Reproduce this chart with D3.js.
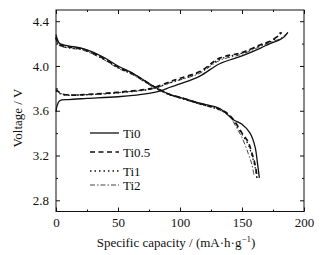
<!DOCTYPE html>
<html><head><meta charset="utf-8">
<script src="https://cdn.jsdelivr.net/npm/d3@7"></script>
<style>body{margin:0;background:#fff}svg{display:block}text{font-family:"Liberation Serif","Times New Roman",serif;fill:#111}</style>
</head><body><svg id="c" width="329" height="255"></svg>
<script>
const seriesNames = ["Ti0","Ti0.5","Ti1","Ti2"];
const xTicks = [0,50,100,150,200];
const yTicks = [2.8,3.2,3.6,4.0,4.4];
// charge curves
const ti0ChargeCap = [0,1,3,10,25,50,75,85,92,100,116,132,150,165,172.6,180.6,184,187];
const ti0ChargeV   = [3.59,3.65,3.69,3.70,3.71,3.725,3.755,3.78,3.81,3.84,3.91,4.02,4.09,4.16,4.20,4.235,4.26,4.30];
const ti05ChargeCap = [0,2,5,11,25,50,75,80,92,100,116,132,150,165,172.6,178,182];
const ti05ChargeV   = [3.79,3.77,3.75,3.74,3.745,3.765,3.795,3.81,3.86,3.89,3.95,4.07,4.12,4.19,4.22,4.26,4.30];
const ti1ChargeCap = [0,2,5,11,25,50,75,80,92,100,116,132,150,165,172.6,178,181];
const ti1ChargeV   = [3.78,3.76,3.745,3.738,3.742,3.76,3.79,3.805,3.85,3.88,3.945,4.06,4.115,4.185,4.215,4.255,4.30];
const ti2ChargeCap = [0,2,5,11,25,50,75,80,92,100,116,132,150,165,172.6,180,184,187];
const ti2ChargeV   = [3.80,3.77,3.75,3.742,3.745,3.762,3.79,3.80,3.85,3.875,3.935,4.05,4.105,4.175,4.21,4.24,4.27,4.30];
// discharge curves
const ti0DischCap = [0,1,3,10,22,38,50,62,80,92,100,116,132,143,150,156.5,160.5,162.5,164];
const ti0DischV   = [4.28,4.24,4.20,4.18,4.155,4.08,4.0,3.935,3.81,3.745,3.72,3.667,3.62,3.52,3.48,3.40,3.28,3.13,3.0];
const ti05DischCap = [0,1,3,10,22,38,50,62,80,92,100,116,132,140,145,150,155,158,160.5,162.3];
const ti05DischV   = [4.26,4.22,4.19,4.17,4.15,4.07,3.99,3.93,3.81,3.745,3.72,3.665,3.615,3.56,3.49,3.40,3.32,3.22,3.12,3.0];
const ti1DischCap = [0,1,3,10,22,38,50,62,80,92,100,116,132,140,145,150,155,158,160.5,162];
const ti1DischV   = [4.25,4.21,4.185,4.165,4.145,4.065,3.985,3.925,3.805,3.74,3.715,3.66,3.61,3.555,3.48,3.39,3.30,3.20,3.10,3.0];
const ti2DischCap = [0,1,3,10,22,38,50,62,80,92,100,116,132,140,145,150,155,158,159.7];
const ti2DischV   = [4.24,4.20,4.18,4.16,4.14,4.06,3.98,3.92,3.80,3.74,3.712,3.658,3.605,3.55,3.46,3.36,3.22,3.12,3.02];

const dashes = ["none","5,3.5","1.5,3","5,2,1.5,2"];
const widths = [1.3,1.7,1.3,1];
const colors = ["#111","#111","#111","#444"];

const svg = d3.select("#c");
const L=56,R=304,T=10,B=211.5;
const x = d3.scaleLinear().domain([0,200]).range([L,R]);
const y = d3.scaleLinear().domain([2.7,4.5]).range([B,T]);

// frame
svg.append("rect").attr("x",L).attr("y",T).attr("width",R-L).attr("height",B-T)
  .attr("fill","none").attr("stroke","#111").attr("stroke-width",1);

const ax = g=>g.call(s=>s.select(".domain").remove()).selectAll("line").attr("stroke","#111");
const xMinor = d3.range(25,200,50);
const yMinor = d3.range(3.0,4.5,0.4).map(v=>+v.toFixed(1));
svg.append("g").attr("transform",`translate(0,${B})`).call(d3.axisBottom(x).tickValues(xTicks).tickSize(-4).tickPadding(6).tickFormat(d3.format("d"))).call(ax)
  .selectAll("text").attr("font-size",13).attr("fill","#111");
svg.append("g").attr("transform",`translate(0,${B})`).call(d3.axisBottom(x).tickValues(xMinor).tickSize(-2).tickFormat("")).call(ax);
svg.append("g").attr("transform",`translate(0,${T})`).call(d3.axisTop(x).tickValues(xTicks).tickSize(-4).tickFormat("")).call(ax);
svg.append("g").attr("transform",`translate(0,${T})`).call(d3.axisTop(x).tickValues(xMinor).tickSize(-2).tickFormat("")).call(ax);
svg.append("g").attr("transform",`translate(${L},0)`).call(d3.axisLeft(y).tickValues(yTicks).tickSize(-4).tickPadding(7).tickFormat(d3.format(".1f"))).call(ax)
  .selectAll("text").attr("font-size",13).attr("fill","#111");
svg.append("g").attr("transform",`translate(${L},0)`).call(d3.axisLeft(y).tickValues(yMinor).tickSize(-2).tickFormat("")).call(ax);
svg.append("g").attr("transform",`translate(${R},0)`).call(d3.axisRight(y).tickValues(yTicks).tickSize(-4).tickFormat("")).call(ax);
svg.append("g").attr("transform",`translate(${R},0)`).call(d3.axisRight(y).tickValues(yMinor).tickSize(-2).tickFormat("")).call(ax);

const lineD = d3.line().x(d=>x(d[0])).y(d=>y(d[1])).curve(d3.curveCatmullRom);
const charge = [[ti0ChargeCap,ti0ChargeV],[ti05ChargeCap,ti05ChargeV],[ti1ChargeCap,ti1ChargeV],[ti2ChargeCap,ti2ChargeV]];
const disch = [[ti0DischCap,ti0DischV],[ti05DischCap,ti05DischV],[ti1DischCap,ti1DischV],[ti2DischCap,ti2DischV]];
[3,2,1,0].forEach(i=>{
  [charge[i],disch[i]].forEach(([c,v])=>{
    svg.append("path").datum(c.map((cc,k)=>[cc,v[k]])).attr("d",lineD)
      .attr("fill","none").attr("stroke",colors[i]).attr("stroke-width",widths[i])
      .attr("stroke-dasharray",dashes[i]);
  });
});

// legend
const legY = [133,152,171,185];
seriesNames.forEach((n,i)=>{
  svg.append("line").attr("x1",90).attr("x2",119).attr("y1",legY[i]).attr("y2",legY[i])
    .attr("stroke",colors[i]).attr("stroke-width",widths[i]).attr("stroke-dasharray",dashes[i]);
  svg.append("text").attr("x",123).attr("y",legY[i]).attr("dy","0.35em").attr("font-size",13).text(n);
});

// axis titles
const xt = svg.append("text").attr("x",176).attr("y",247).attr("text-anchor","middle").attr("font-size",13);
xt.append("tspan").text("Specific capacity / (mA·h·g");
xt.append("tspan").attr("dy",-5).attr("font-size",9).text("−1");
xt.append("tspan").attr("dy",5).text(")");
svg.append("text").attr("transform","translate(22,118) rotate(-90)").attr("text-anchor","middle")
  .attr("font-size",13).attr("fill","#2a1d10").text("Voltage / V");
</script></body></html>
